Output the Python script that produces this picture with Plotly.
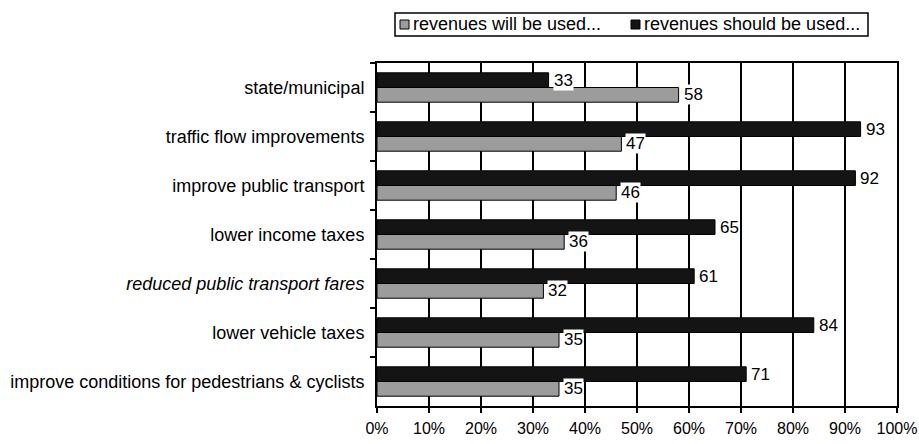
import plotly.graph_objects as go

categories = [
    "state/municipal",
    "traffic flow improvements",
    "improve public transport",
    "lower income taxes",
    "<i>reduced public transport fares</i>",
    "lower vehicle taxes",
    "improve conditions for pedestrians & cyclists",
]
will_be_used = [58, 47, 46, 36, 32, 35, 35]
should_be_used = [33, 93, 92, 65, 61, 84, 71]
x_ticks = [0, 10, 20, 30, 40, 50, 60, 70, 80, 90, 100]
x_tick_labels = [f"{t}%" for t in x_ticks]
series_names = ["revenues will be used...", "revenues should be used..."]

FONT = "Liberation Sans, Arial, sans-serif"
GRAY = "#9c9c9c"
BLACK = "#141414"
BAR_GAP = 0.4
HALF = (1 - BAR_GAP) / 4  # offset of each bar centre from its category centre

W, H = 919, 444
M = dict(l=377, r=22, t=63, b=38)
PW, PH = W - M["l"] - M["r"], H - M["t"] - M["b"]


def px_x(x):
    """pixel column -> paper x"""
    return (x - M["l"]) / PW


def px_y(y):
    """pixel row -> paper y"""
    return (H - M["b"] - y) / PH


fig = go.Figure()
fig.add_trace(go.Bar(
    y=categories, x=should_be_used, orientation="h", name=series_names[1],
    marker=dict(color=BLACK, line=dict(color="black", width=1)),
    showlegend=False,
))
fig.add_trace(go.Bar(
    y=categories, x=will_be_used, orientation="h", name=series_names[0],
    marker=dict(color=GRAY, line=dict(color="black", width=1)),
    showlegend=False,
))

# value labels next to the bar ends
annotations = []
for i, (s, w) in enumerate(zip(should_be_used, will_be_used)):
    for val, off in ((s, -HALF), (w, HALF)):
        annotations.append(dict(
            x=val, y=i + off, xref="x", yref="y", text=str(val),
            showarrow=False, xanchor="left", xshift=4, bgcolor="white",
            borderpad=0, font=dict(family=FONT, size=17, color="black"),
        ))

# boxed legend above the plot
shapes = [dict(
    type="rect", xref="paper", yref="paper",
    x0=px_x(395), x1=px_x(868), y0=px_y(36), y1=px_y(13),
    line=dict(color="black", width=1.5), fillcolor="white", layer="above",
)]
legend_items = [(series_names[0], GRAY, 400), (series_names[1], BLACK, 631)]
for name, color, sx in legend_items:
    shapes.append(dict(
        type="rect", xref="paper", yref="paper",
        x0=px_x(sx), x1=px_x(sx + 9), y0=px_y(29), y1=px_y(20),
        line=dict(color="black", width=1), fillcolor=color, layer="above",
    ))
    annotations.append(dict(
        x=px_x(sx + 11), y=px_y(24.5), xref="paper", yref="paper",
        text=name, showarrow=False, xanchor="left", yanchor="middle",
        font=dict(family=FONT, size=18, color="black"),
    ))

fig.update_layout(
    width=W, height=H, margin=M,
    paper_bgcolor="white", plot_bgcolor="white",
    barmode="group", bargap=BAR_GAP, bargroupgap=0,
    font=dict(family=FONT, size=17, color="black"),
    showlegend=False,
    annotations=annotations, shapes=shapes,
)
fig.update_xaxes(
    range=[0, 100], tickvals=x_ticks, ticktext=x_tick_labels,
    showgrid=True, gridcolor="black", gridwidth=1.5,
    showline=True, linecolor="black", linewidth=2, mirror=True,
    ticks="outside", ticklen=5, tickcolor="black", tickwidth=1.5,
    ticklabelstandoff=2, automargin=False,
    tickfont=dict(family=FONT, size=16), zeroline=False,
)
fig.update_yaxes(
    autorange="reversed", type="category", automargin=False,
    showgrid=False, showline=True, linecolor="black", linewidth=2, mirror=True,
    ticks="outside", ticklen=5, tickcolor="black", tickwidth=1.5,
    tickson="boundaries", ticklabelstandoff=7,
    tickfont=dict(family=FONT, size=18),
)

fig.write_html("out.html")
